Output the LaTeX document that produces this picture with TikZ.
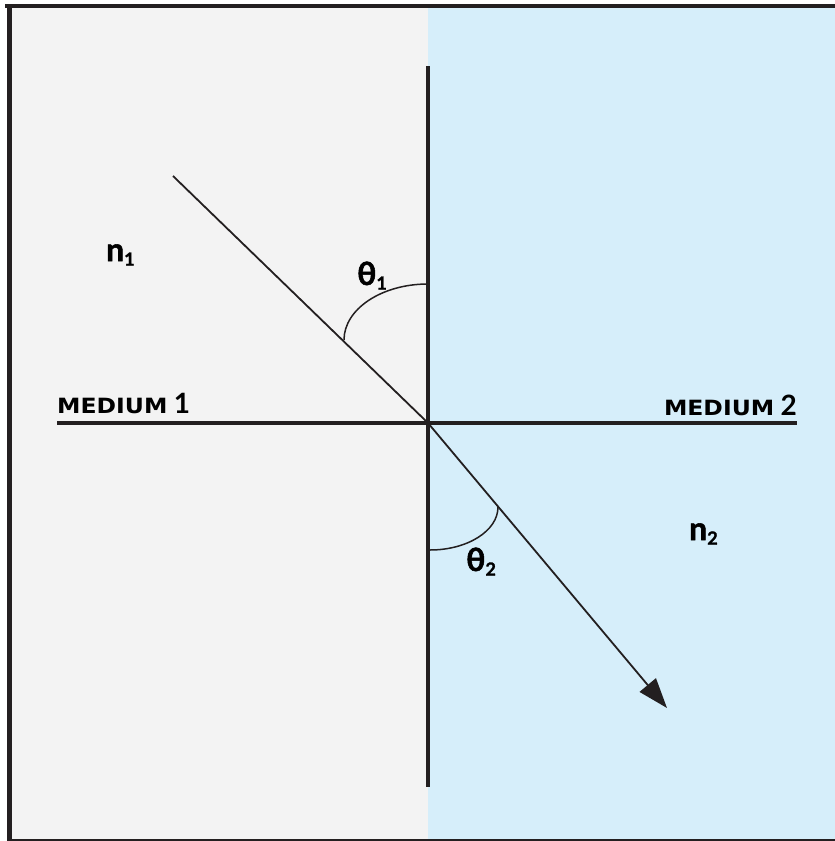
\documentclass[tikz,border=0pt]{standalone}
\usepackage{fontspec}
\usetikzlibrary{arrows.meta}
\setmainfont{Lato}
\newfontfamily\labfont[FakeBold=1.6]{Lato Bold}
\newfontfamily\medfont[FakeStretch=1.12]{DejaVu Sans}
\definecolor{ink}{HTML}{231F20}
\definecolor{leftbg}{HTML}{F3F3F3}
\definecolor{rightbg}{HTML}{D6EEFA}
\newcommand\lbl[2]{{\labfont\fontsize{32}{32}\selectfont #1\raisebox{-0.28ex}{\fontsize{18}{18}\selectfont #2}}}
\newcommand\med[1]{{\medfont\bfseries\fontsize{21}{21}\selectfont MEDIUM\hspace{0.3em}{\rmfamily\bfseries\fontsize{28}{28}\selectfont #1}}}
\begin{document}
\begin{tikzpicture}[x=1pt,y=-1pt,
  axis/.style={draw=ink,line width=4.5pt},
  ray/.style={draw=ink,line width=1.8pt},
  anglearc/.style={draw=ink,line width=1.5pt},
  frameline/.style={draw=ink}]
\useasboundingbox (0,0) rectangle (835,841);
% backgrounds
\fill[leftbg] (9,6) rectangle (428,841);
\fill[rightbg] (428,6) rectangle (835,841);
% frame
\draw[frameline,line width=4pt] (5,6) -- (835,6);
\draw[frameline,line width=4.5pt] (9.5,4) -- (9.5,841);
\draw[frameline,line width=2pt] (9,840) -- (835,840);
% coordinates
\coordinate (O) at (428,423);
\coordinate (N1) at (428,66);
\coordinate (N2) at (428,787);
\coordinate (S1) at (57,423);
\coordinate (S2) at (797,423);
\coordinate (A) at (173,176);
\coordinate (B) at (667,708);
% axes
\draw[axis] (N1) -- (N2);
\draw[axis] (S1) -- (S2);
% rays
\draw[ray] (A) -- (O);
\draw[ray,-{Triangle[length=30pt,width=21pt]}] (O) -- (B);
% angle arcs
\draw[anglearc] (428,284) arc[start angle=90,end angle=180,x radius=84,y radius=-56];
\draw[anglearc] (430,550) arc[start angle=270,end angle=360,x radius=68,y radius=-43];
% labels
\node[inner sep=0,anchor=base west] (n1) at (106,261) {\lbl{n}{1}};
\node[inner sep=0,anchor=base west] (n2) at (689,540) {\lbl{n}{2}};
\node[inner sep=0,anchor=base west] (t1) at (357,285) {\lbl{θ}{1}};
\node[inner sep=0,anchor=base west] (t2) at (466,571) {\lbl{θ}{2}};
\node[inner sep=0,anchor=base west] (m1) at (57,413) {\med{1}};
\node[inner sep=0,anchor=base east] (m2) at (797,415) {\med{2}};
\end{tikzpicture}
\end{document}
